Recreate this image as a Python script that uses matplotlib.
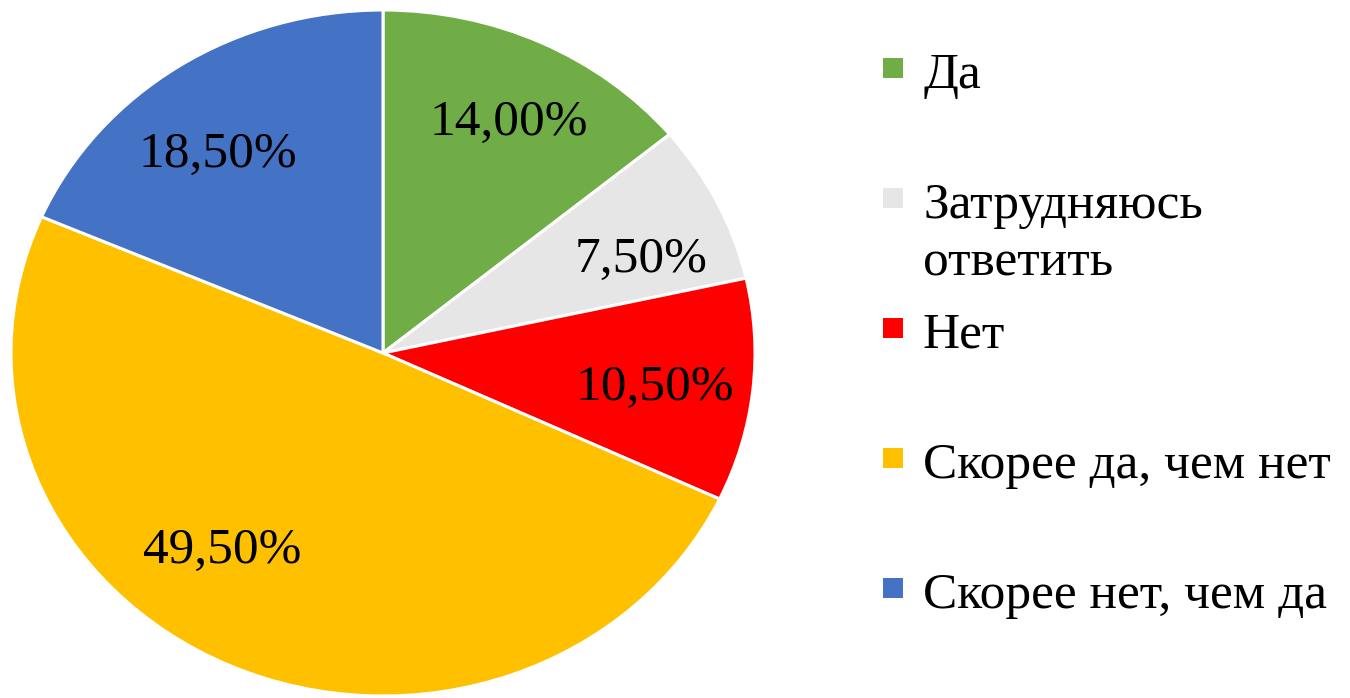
import matplotlib
matplotlib.use("Agg")
import matplotlib.pyplot as plt
from matplotlib.patches import Rectangle

plt.rcParams['font.family'] = ['Liberation Serif', 'DejaVu Serif']

labels = ['Да', 'Затрудняюсь\nответить', 'Нет', 'Скорее да, чем нет', 'Скорее нет, чем да']
values = [14.0, 7.5, 10.5, 49.5, 18.5]
colors = ['#70AD47', '#E7E6E6', '#FF0000', '#FFC000', '#4472C4']
# положение подписей (x, базовая линия) в долях радиуса, как в Excel
label_pos = [(0.339, 0.636), (0.694, 0.236), (0.731, -0.137), (-0.433, -0.612), (-0.444, 0.542)]

W, H = 1350, 698
fig = plt.figure(figsize=(W / 100, H / 100), dpi=100)

# оси: центр круга (383, 353) пикс., радиусы 372 x 343 (растянутый круг)
cx, cy, rx, ry = 383, 353, 372, 343
ax = fig.add_axes([(cx - rx) / W, (H - cy - ry) / H, 2 * rx / W, 2 * ry / H])

wedges, texts, autotexts = ax.pie(
    values, colors=colors, startangle=90, counterclock=False,
    autopct=lambda p: ('%.2f%%' % p).replace('.', ','),
    pctdistance=0.74,
    wedgeprops=dict(edgecolor='white', linewidth=2.2),
    textprops=dict(fontsize=37, color='black'))
ax.set_aspect('auto')
ax.set_xlim(-1, 1)
ax.set_ylim(-1, 1)

for t, pos in zip(autotexts, label_pos):
    t.set_position(pos)
    t.set_va('baseline')

# легенда вручную
sq = 20
rows = [(68, 88), (198, 218), (328, 348), (458, 478), (588, 608)]
for (yc, yb), lab, col in zip(rows, labels, colors):
    fig.add_artist(Rectangle((883 / W, (H - yc - sq / 2) / H), sq / W, sq / H,
                             transform=fig.transFigure, facecolor=col, edgecolor='none'))
    for k, line in enumerate(lab.split('\n')):
        fig.text(923 / W, (H - yb - 57 * k) / H, line, fontsize=37,
                 va='baseline', ha='left')

fig.savefig('out.png', dpi=100)
